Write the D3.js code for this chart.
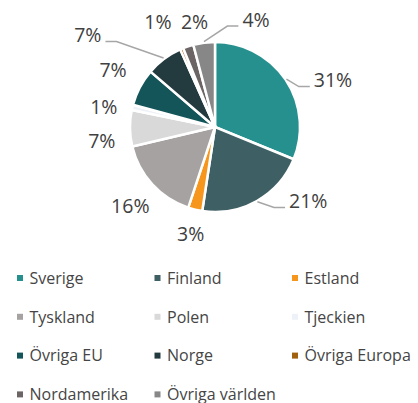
<!DOCTYPE html>
<html>
<head>
<meta charset="utf-8">
<script src="https://cdn.jsdelivr.net/npm/d3@7"></script>
<style>
  body { margin: 0; background: #fff; }
  text { font-family: "Open Sans", "Noto Sans", sans-serif; }
</style>
</head>
<body>
<div id="chart"></div>
<script>
const width = 418;
const height = 403;

// data
const categories = ['Sverige', 'Finland', 'Estland', 'Tyskland', 'Polen', 'Tjeckien',
  'Övriga EU', 'Norge', 'Övriga Europa', 'Nordamerika', 'Övriga världen'];
const shares = [31.2, 21.2, 2.7, 16.2, 6.9, 1.0, 7.1, 7.0, 0.6, 2.0, 4.1];
const colors = ['#26908f', '#3e5f63', '#f7961d', '#a5a2a1', '#d9d9d9', '#eef2f8',
  '#14555a', '#233a3e', '#a0600e', '#6b6665', '#878787'];

// label layout: angle (deg, clockwise from top) and distance from centre
const labelAngle = [68.3, 128.4, 192.8, 226.9, 263.1, 280.2, 299.4, 305.9, 331.5, 349, 20.9];
const labelDist = [127, 119, 110, 116, 114, 113, 117, 157, 119.5, 107, 115];
const hasLeader = [true, true, false, false, false, false, false, true, false, false, true];

const cx = 215;
const cy = 127;
const radius = 85;

const svg = d3.select('#chart')
  .append('svg')
    .attr('width', width)
    .attr('height', height);

const total = d3.sum(shares);

const pie = d3.pie().sort(null).value(d => d);
const arc = d3.arc().innerRadius(0).outerRadius(radius);
const edgeArc = d3.arc().innerRadius(radius + 1).outerRadius(radius + 1);

const arcs = pie(shares);

const g = svg.append('g').attr('transform', `translate(${cx}, ${cy})`);

// slices
g.selectAll('path.slice')
  .data(arcs)
  .enter().append('path')
    .attr('class', 'slice')
    .attr('d', arc)
    .attr('fill', (d, i) => colors[i])
    .attr('stroke', '#fff')
    .attr('stroke-width', 2.5);

function polar(deg, r) {
  const a = deg * Math.PI / 180;
  return [r * Math.sin(a), -r * Math.cos(a)];
}

// labels
arcs.forEach((d, i) => {
  const [lx, ly] = polar(labelAngle[i], labelDist[i]);
  const txt = g.append('text')
    .attr('x', lx)
    .attr('y', ly + 7)
    .attr('text-anchor', 'middle')
    .attr('font-size', 19.5)
    .attr('fill', '#404040')
    .text(Math.round(d.value / total * 100) + '%');

  if (hasLeader[i]) {
    const w = txt.node().getComputedTextLength();
    const start = edgeArc.centroid(d);
    const right = lx > start[0];
    const endX = right ? lx - w / 2 - 4 : lx + w / 2 + 4;
    const elbowX = right ? endX - 11 : endX + 11;
    const lineY = ly + 6.5;
    g.insert('path', 'text')
      .attr('d', d3.line()([start, [elbowX, lineY], [endX, lineY]]))
      .attr('fill', 'none')
      .attr('stroke', '#a6a6a6')
      .attr('stroke-width', 1.5);
  }
});

// legend
const legendCol = d3.scaleLinear().domain([0, 1]).range([17, 154.5]);
const legendRow = d3.scaleLinear().domain([0, 1]).range([278, 316.8]);

const legend = svg.append('g');
categories.forEach((name, i) => {
  const col = i % 3;
  const row = Math.floor(i / 3);
  const x = legendCol(col);
  const y = legendRow(row);
  legend.append('rect')
    .attr('x', x)
    .attr('y', y - 3)
    .attr('width', 6)
    .attr('height', 6)
    .attr('fill', colors[i]);
  legend.append('text')
    .attr('x', x + 12.5)
    .attr('y', y + 5.7)
    .attr('font-size', 16)
    .attr('fill', '#454545')
    .text(name);
});
</script>
</body>
</html>
